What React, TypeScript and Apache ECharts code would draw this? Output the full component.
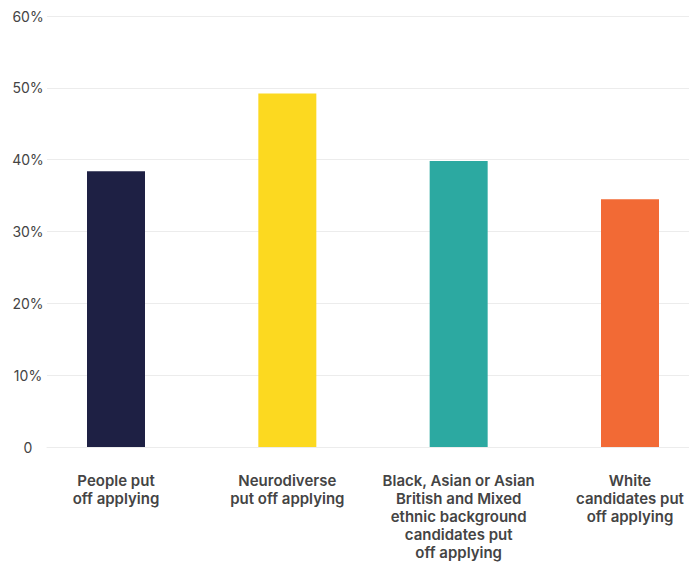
import React, { useEffect, useRef } from "react";
import * as echarts from "echarts";

const categories = [
  "People put\noff applying",
  "Neurodiverse\nput off applying",
  "Black, Asian or Asian\nBritish and Mixed\nethnic background\ncandidates put\noff applying",
  "White\ncandidates put\noff applying",
];
const values = [38.4, 49.2, 39.8, 34.5];
const barColors = ["#1e2044", "#fcd920", "#2ca9a1", "#f26a35"];
const yTicks = [0, 10, 20, 30, 40, 50, 60];

export default function App() {
  const ref = useRef<HTMLDivElement>(null);
  useEffect(() => {
    if (!ref.current) return;
    const chart = echarts.init(ref.current, null, { renderer: "svg" });
    const top = 16;
    const bottom = 115;
    chart.setOption({
      animation: false,
      grid: [
        { left: 47, right: 0, top, bottom },
        { left: 116, right: 59, top, bottom },
      ],
      xAxis: [
        {
          gridIndex: 0,
          type: "category",
          data: categories,
          show: true,
          axisLine: { show: true, lineStyle: { color: "#ececec" } },
          axisTick: { show: false },
          axisLabel: { show: false },
        },
        {
          gridIndex: 1,
          type: "category",
          data: categories,
          boundaryGap: false,
          axisLine: { show: false },
          axisTick: { show: false },
          axisLabel: {
            interval: 0,
            margin: 24,
            color: "#444",
            fontFamily: "Inter, 'Noto Sans', sans-serif",
            fontWeight: 600,
            fontSize: 15,
            lineHeight: 18,
            align: "center",
          },
        },
      ],
      yAxis: [
        {
          gridIndex: 0,
          type: "value",
          min: yTicks[0],
          max: yTicks[yTicks.length - 1],
          interval: 10,
          axisLine: { show: false },
          axisTick: { show: false },
          splitLine: { lineStyle: { color: "#ececec" } },
          axisLabel: {
            align: "center",
            margin: 19,
            color: "#444",
            fontFamily: "Inter, 'Noto Sans', sans-serif",
            fontSize: 14,
            formatter: (v: number) => (v === 0 ? "0" : v + "%"),
          },
        },
        {
          gridIndex: 1,
          type: "value",
          min: yTicks[0],
          max: yTicks[yTicks.length - 1],
          show: false,
          splitLine: { show: false },
        },
      ],
      series: [
        {
          type: "bar",
          xAxisIndex: 1,
          yAxisIndex: 1,
          barWidth: 58,
          data: values.map((v, i) => ({ value: v, itemStyle: { color: barColors[i] } })),
        },
      ],
    });
    return () => chart.dispose();
  }, []);
  return (
    <div
      ref={ref}
      style={{ position: "fixed", left: 0, top: 0, width: 689, height: 562, background: "#fff" }}
    />
  );
}
